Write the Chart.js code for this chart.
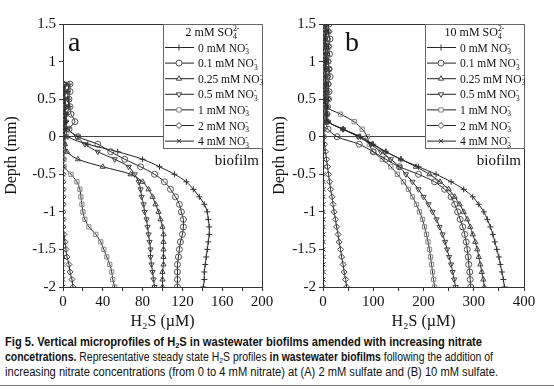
<!DOCTYPE html>
<html>
<head>
<meta charset="utf-8">
<script src="https://cdn.jsdelivr.net/npm/chart.js@4/dist/chart.umd.min.js"></script>
<style>
  body { margin: 0; background: #fff; width: 554px; height: 389px; position: relative; overflow: hidden; }
  canvas { position: absolute; top: 0; }
  #chartA { left: 0; }
  #chartB { left: 268px; }
  .cap { position: absolute; left: 5px; font: 12px "Liberation Sans", Arial, sans-serif; line-height: 15px; color: #111; white-space: nowrap; transform-origin: 0 0; }
  .cap sub { font-size: 8px; vertical-align: -2px; line-height: 0; }
  #rule { position: absolute; left: 0; top: 385px; width: 554px; border-top: 1px solid #777; }
</style>
</head>
<body>
<canvas id="chartA" width="280" height="334"></canvas>
<canvas id="chartB" width="286" height="334"></canvas>
<div class="cap" style="top:335px" data-w="477"><b>Fig 5. Vertical microprofiles of H<sub>2</sub>S in wastewater biofilms amended with increasing nitrate</b></div>
<div class="cap" style="top:350px" data-w="488"><b>concetrations.</b> Representative steady state H<sub>2</sub>S profiles <b>in wastewater biofilms</b> following the addition of</div>
<div class="cap" style="top:365px" data-w="493">increasing nitrate concentrations (from 0 to 4 mM nitrate) at (A) 2 mM sulfate and (B) 10 mM sulfate.</div>
<div id="rule"></div>
<script>
// nitrate levels (mM NO3-) used in both panels
const nitrate = ['0', '0.1', '0.25', '0.5', '1', '2', '4'];

// panel a: 2 mM sulfate, depth in mm
const depthA = [0.7, 0.6, 0.5, 0.4, 0.3, 0.2, 0.1, 0, -0.1, -0.2, -0.3, -0.4, -0.5, -0.6,
  -0.7, -0.8, -0.9, -1.0, -1.1, -1.2, -1.3, -1.4, -1.5, -1.6, -1.7, -1.8, -1.9, -2.0];
const a_no3_0 = [6, 5, 5, 6, 4, 3, 3, 5, 25, 55, 80, 97, 112, 124, 131, 137, 142, 145, 146, 147, 147, 146, 145, 144, 143, 142, 142, 141];
const a_no3_01 = [7, 7, 6, 7, 8, 12, 6, 15, 35, 48, 62, 78, 92, 102, 108, 113, 117, 119, 121, 121, 120, 118, 117, 116, 115, 115, 115, 115];
const a_no3_025 = [1, 1, 1, 2, 1, 2, 1, 2, 2, 4, 15, 40, 68, 80, 86, 90, 93, 96, 98, 100, 101, 101, 101, 101, 101, 100, 100, 100];
const a_no3_05 = [2, 2, 2, 3, 2, 3, 5, 14, 22, 35, 52, 66, 72, 76, 78, 79, 81, 82, 84, 85, 86, 87, 88, 88, 89, 90, 91, 92];
const a_no3_1 = [2, 2, 1, 2, 1, 1, 1, 1, 1, 1, 1, 1, 8, 14, 17, 18, 19, 20, 22, 26, 33, 38, 41, 44, 47, 49, 50, 52];
const a_no3_2 = [1, 1, 1, 1, 2, 2, 1, 1, 0, 0, 0, 0, 0, 0, 0, 0, 0, 0, 0, 0, 1, 2, 3, 4, 6, 7, 9, 10];
const a_no3_4 = [0, 0, 0, 0, 0, 0, 0, 0, 0, 0, 0, 0, 0, 0, 0, 0, 0, 0, 0, 0, 0, 0, 0, 0, 0, 0, 0, 0];

// panel b: 10 mM sulfate
const depthB = [1.5, 1.4, 1.3, 1.2, 1.1, 1.0, 0.9, 0.8, 0.7, 0.6, 0.5, 0.4, 0.3, 0.2, 0.1, 0,
  -0.1, -0.2, -0.3, -0.4, -0.5, -0.6, -0.7, -0.8, -0.9, -1.0, -1.1, -1.2, -1.3, -1.4, -1.5,
  -1.6, -1.7, -1.8, -1.9, -2.0];
const b_no3_0 = [5, 6, 4, 7, 5, 6, 4, 5, 6, 5, 4, 6, 8, 10, 40, 75, 100, 125, 155, 190, 225, 255, 280, 298, 310, 320, 327, 333, 338, 342, 346, 350, 353, 356, 359, 361];
const b_no3_01 = [12, 10, 14, 11, 13, 10, 12, 14, 10, 12, 11, 9, 8, 6, 10, 28, 72, 100, 125, 152, 190, 222, 242, 255, 262, 268, 273, 278, 282, 285, 287, 289, 290, 292, 293, 294];
const b_no3_025 = [6, 8, 5, 7, 9, 6, 8, 5, 7, 6, 8, 7, 6, 10, 40, 72, 98, 125, 155, 185, 212, 233, 250, 262, 272, 280, 287, 293, 298, 303, 307, 310, 313, 316, 319, 321];
const b_no3_05 = [4, 6, 5, 3, 6, 4, 5, 6, 4, 5, 6, 4, 5, 10, 40, 70, 95, 115, 135, 152, 165, 178, 190, 200, 210, 218, 226, 232, 238, 243, 247, 251, 255, 258, 261, 264];
const b_no3_1 = [3, 4, 3, 5, 4, 3, 4, 5, 3, 4, 3, 5, 35, 62, 78, 88, 92, 100, 118, 135, 148, 160, 170, 178, 186, 192, 198, 202, 206, 209, 212, 214, 216, 218, 220, 222];
const b_no3_2 = [8, 12, 9, 11, 8, 10, 12, 9, 11, 8, 10, 7, 5, 3, 2, 2, 3, 5, 7, 9, 11, 13, 15, 18, 20, 22, 25, 27, 30, 32, 35, 37, 40, 42, 45, 47];
const b_no3_4 = [1, 2, 1, 2, 1, 2, 1, 2, 1, 2, 1, 2, 1, 1, 1, 1, 1, 1, 1, 1, 1, 1, 1, 1, 1, 1, 1, 1, 1, 1, 1, 1, 1, 1, 1, 1];

const seriesA = [a_no3_0, a_no3_01, a_no3_025, a_no3_05, a_no3_1, a_no3_2, a_no3_4];
const seriesB = [b_no3_0, b_no3_01, b_no3_025, b_no3_05, b_no3_1, b_no3_2, b_no3_4];

// marker look for each nitrate level
const marks = [
  { pointStyle: 'cross', rotation: 0, color: '#333' },
  { pointStyle: 'circle', rotation: 0, color: '#555' },
  { pointStyle: 'triangle', rotation: 0, color: '#444' },
  { pointStyle: 'triangle', rotation: 180, color: '#444' },
  { pointStyle: 'rect', rotation: 0, color: '#888' },
  { pointStyle: 'rectRot', rotation: 0, color: '#444' },
  { pointStyle: 'crossRot', rotation: 0, color: '#333' },
];

const serif = '"Liberation Serif", "Times New Roman", serif';
const legendSize = 11.5;

// text pieces with sub/superscripts; parts: [text, kind]
function richWidth(ctx, parts, size) {
  let w = 0, i = 0;
  while (i < parts.length) {
    const [t, k] = parts[i];
    if (k === 'sub' && parts[i + 1] && parts[i + 1][1] === 'sup') {
      ctx.font = (size * 0.65) + 'px ' + serif;
      w += Math.max(ctx.measureText(t).width, ctx.measureText(parts[i + 1][0]).width);
      i += 2; continue;
    }
    ctx.font = (k ? size * 0.65 : size) + 'px ' + serif;
    w += ctx.measureText(t).width;
    i++;
  }
  return w;
}
function drawRich(ctx, parts, x, y, size) {
  ctx.textBaseline = 'alphabetic';
  ctx.textAlign = 'left';
  let i = 0;
  while (i < parts.length) {
    const [t, k] = parts[i];
    const small = (size * 0.65) + 'px ' + serif;
    if (k === 'sub' && parts[i + 1] && parts[i + 1][1] === 'sup') {
      ctx.font = small;
      ctx.fillText(t, x, y + size * 0.22);
      ctx.fillText(parts[i + 1][0], x, y - size * 0.42);
      x += Math.max(ctx.measureText(t).width, ctx.measureText(parts[i + 1][0]).width);
      i += 2; continue;
    }
    ctx.font = k ? small : size + 'px ' + serif;
    const dy = k === 'sub' ? size * 0.22 : k === 'sup' ? -size * 0.42 : 0;
    ctx.fillText(t, x, y + dy);
    x += ctx.measureText(t).width;
    i++;
  }
}

const decoPlugin = {
  id: 'deco',
  afterDraw(chart, args, opt) {
    const { ctx, chartArea: ca } = chart;
    ctx.save();
    ctx.strokeStyle = '#333';
    ctx.lineWidth = 1;
    // top and right frame
    ctx.beginPath();
    ctx.moveTo(ca.left, ca.top + 0.5);
    ctx.lineTo(ca.right + 0.5, ca.top + 0.5);
    ctx.lineTo(ca.right + 0.5, ca.bottom);
    ctx.stroke();

    // legend box
    const x0 = opt.boxLeft, y0 = ca.top, y1 = 148;
    ctx.fillStyle = '#fff';
    ctx.fillRect(x0, y0 + 1, ca.right - x0, y1 - y0);
    ctx.strokeStyle = '#666';
    ctx.strokeRect(x0 + 0.5, y0 + 0.5, ca.right - x0, y1 - y0);

    ctx.fillStyle = '#111';
    const title = [[opt.sulfate + ' mM SO'], ['4', 'sub'], ['2-', 'sup']];
    const tw = richWidth(ctx, title, legendSize + 0.5);
    drawRich(ctx, title, (x0 + ca.right) / 2 - tw / 2, 36, legendSize + 0.5);

    nitrate.forEach((n, i) => {
      const y = 47 + i * 15.6;
      ctx.strokeStyle = '#222';
      ctx.lineWidth = 1;
      ctx.beginPath();
      ctx.moveTo(x0 + 2, y + 0.5);
      ctx.lineTo(x0 + 31, y + 0.5);
      ctx.stroke();
      const m = marks[i];
      ctx.strokeStyle = m.color;
      ctx.fillStyle = '#fff';
      Chart.helpers.drawPoint(ctx, { pointStyle: m.pointStyle, rotation: m.rotation, radius: 3, borderWidth: 1 }, x0 + 16, y + 0.5);
      ctx.fillStyle = '#111';
      drawRich(ctx, [[n + ' mM NO'], ['3', 'sub'], ['-', 'sup']], x0 + 35, y + 4.5, legendSize);
    });

    ctx.font = '15px ' + serif;
    ctx.textAlign = 'right';
    ctx.textBaseline = 'middle';
    ctx.fillText('biofilm', ca.right - 3, 161);

    ctx.font = '28px ' + serif;
    ctx.textAlign = 'left';
    ctx.textBaseline = 'alphabetic';
    ctx.fillText(opt.letter, opt.letterX, 51);
    ctx.restore();
  }
};

function makeChart(id, depth, series, xmax, xstep, xlabelStep, yWidth, padRight, decoOpts) {
  const datasets = series.map((vals, i) => ({
    label: nitrate[i] + ' mM NO3-',
    data: vals.map((v, j) => ({ x: v, y: depth[j] })),
    showLine: true,
    borderColor: '#222',
    borderWidth: 1,
    tension: 0.3,
    pointStyle: marks[i].pointStyle,
    rotation: marks[i].rotation,
    pointRadius: 3,
    pointBorderWidth: 1,
    pointBorderColor: marks[i].color,
    pointBackgroundColor: 'rgba(255,255,255,0)',
  }));
  return new Chart(document.getElementById(id), {
    type: 'scatter',
    data: { datasets },
    options: {
      responsive: false,
      animation: false,
      devicePixelRatio: 1,
      layout: { padding: { top: 24, right: padRight, left: 0, bottom: 0 } },
      plugins: { legend: { display: false }, tooltip: { enabled: false }, deco: decoOpts },
      scales: {
        x: {
          type: 'linear', min: 0, max: xmax,
          afterFit: (s) => { s.height = 47; },
          grid: { drawOnChartArea: false, tickLength: 4, color: '#333' },
          border: { color: '#333' },
          ticks: {
            stepSize: xstep, autoSkip: false, maxRotation: 0, padding: 2, color: '#111',
            font: { family: serif, size: 15 },
            callback: (v) => (v % xlabelStep === 0 ? String(v) : ''),
          },
          title: { display: true, text: 'H₂S (µM)', color: '#111', font: { family: serif, size: 16 }, padding: { top: 0, bottom: 3 } },
        },
        y: {
          type: 'linear', min: -2, max: 1.5,
          afterFit: (s) => { s.width = yWidth; },
          grid: {
            color: (c) => (c.tick && c.tick.value === 0 ? '#444' : 'rgba(0,0,0,0)'),
            tickColor: '#333', tickLength: 4,
          },
          border: { color: '#333' },
          ticks: {
            stepSize: 0.5, padding: 3, color: '#111', font: { family: serif, size: 15 },
            callback: (v) => String(Math.round(v * 10) / 10),
          },
          title: { display: true, text: 'Depth (mm)', color: '#111', font: { family: serif, size: 16 }, padding: { top: 2, bottom: 2 } },
        },
      },
    },
    plugins: [decoPlugin],
  });
}

makeChart('chartA', depthA, seriesA, 200, 20, 40, 63, 18,
  { boxLeft: 163, sulfate: '2', letter: 'a', letterX: 68 });
makeChart('chartB', depthB, seriesB, 400, 50, 100, 55, 30,
  { boxLeft: 157, sulfate: '10', letter: 'b', letterX: 77 });

// squeeze each caption line to the width it has in the figure
document.querySelectorAll('.cap').forEach((el) => {
  const w = el.getBoundingClientRect().width;
  el.style.transform = 'scaleX(' + (Number(el.dataset.w) / w) + ')';
});
</script>
</body>
</html>
